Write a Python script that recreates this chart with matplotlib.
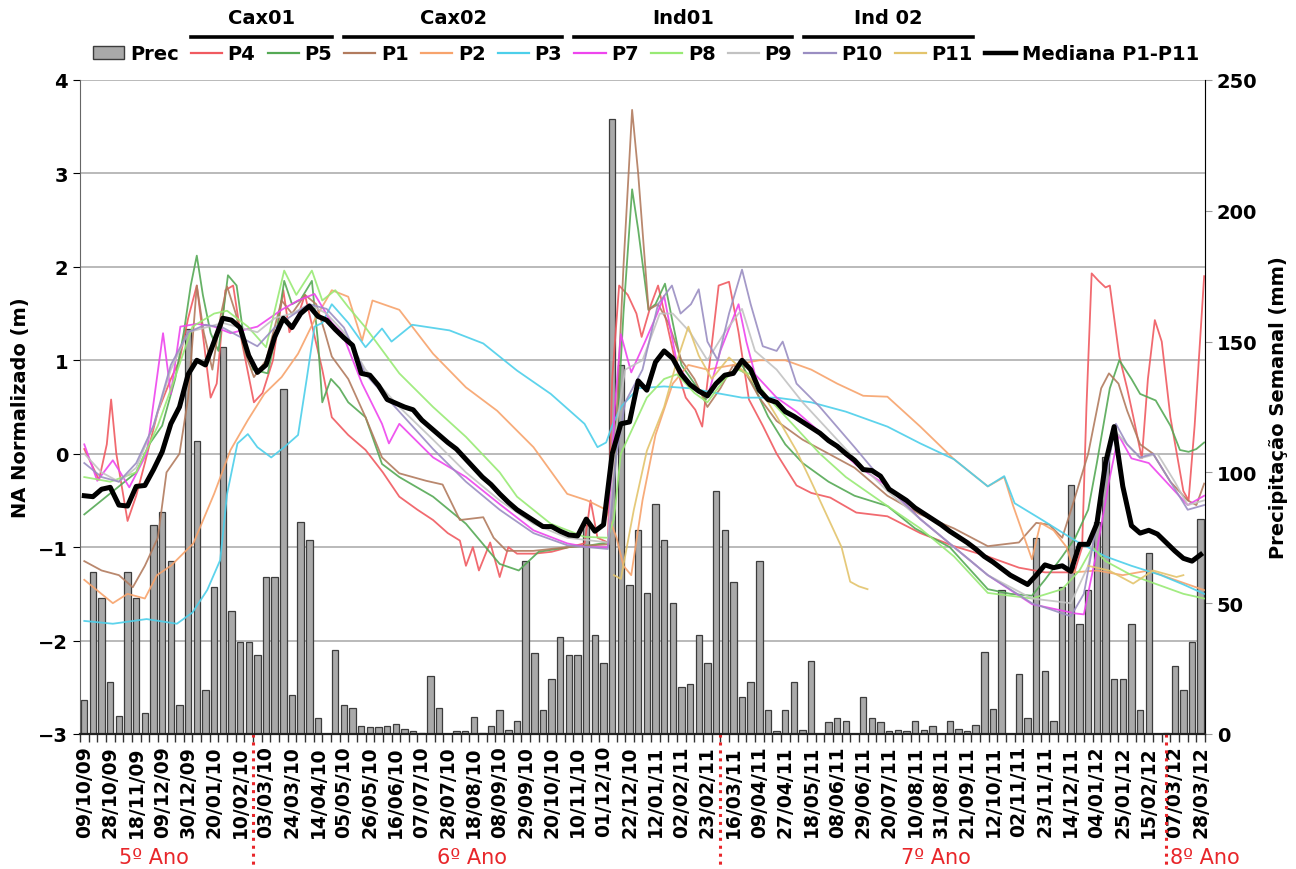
import numpy as np
import matplotlib.pyplot as plt
from matplotlib.lines import Line2D
from matplotlib.patches import Patch

plt.rcParams['font.family'] = ['DejaVu Sans']

# rotulos do eixo x (um a cada 3 semanas)
datas = ['09/10/09', '28/10/09', '18/11/09', '09/12/09', '30/12/09', '20/01/10',
         '10/02/10', '03/03/10', '24/03/10', '14/04/10', '05/05/10', '26/05/10',
         '16/06/10', '07/07/10', '28/07/10', '18/08/10', '08/09/10', '29/09/10',
         '20/10/10', '10/11/10', '01/12/10', '22/12/10', '12/01/11', '02/02/11',
         '23/02/11', '16/03/11', '09/04/11', '27/04/11', '18/05/11', '08/06/11',
         '29/06/11', '20/07/11', '10/08/11', '31/08/11', '21/09/11', '12/10/11',
         '02/11/11', '23/11/11', '14/12/11', '04/01/12', '25/01/12', '15/02/12',
         '07/03/12', '28/03/12']

# precipitacao semanal (mm)
prec = [13, 62, 52, 20, 7, 62, 52, 8, 80, 85,
        66, 11, 155, 112, 17, 56, 148, 47, 35, 35,
        30, 60, 60, 132, 15, 81, 74, 6, 0, 32,
        11, 10, 3, 2.5, 2.5, 3, 4, 2, 1, 0.5,
        22, 10, 0, 1, 1, 6.5, 0.5, 3, 9, 1.5,
        5, 66, 31, 9, 21, 37, 30, 30, 80, 38,
        27, 235, 141, 57, 78, 54, 88, 74, 50, 18,
        19, 38, 27, 93, 78, 58, 14, 20, 66, 9,
        1, 9, 20, 1.5, 28, 0, 4.5, 6, 5, 0,
        14, 6, 4.5, 1, 1.5, 1, 5, 1.5, 3, 0,
        5, 2, 1, 3.5, 31.5, 9.5, 55, 0, 23, 6,
        75, 24, 5, 56, 95, 42, 55, 81, 106, 21,
        21, 42, 9, 69, 0, 0.5, 26, 17, 35, 82]

# mediana P1-P11 (m)
mediana = [-0.45, -0.46, -0.38, -0.36, -0.55, -0.56, -0.35, -0.34, -0.17, 0.02,
           0.32, 0.50, 0.85, 1.00, 0.95, 1.20, 1.45, 1.43, 1.35, 1.05,
           0.87, 0.95, 1.25, 1.45, 1.35, 1.50, 1.58, 1.47, 1.43, 1.33,
           1.24, 1.16, 0.86, 0.84, 0.73, 0.58, 0.54, 0.50, 0.47, 0.36,
           0.28, 0.20, 0.12, 0.05, -0.05, -0.15, -0.25, -0.33, -0.43, -0.52,
           -0.60, -0.66, -0.72, -0.78, -0.78, -0.83, -0.87, -0.88, -0.70, -0.83,
           -0.76, 0.00, 0.32, 0.34, 0.78, 0.68, 0.98, 1.10, 1.02, 0.85,
           0.74, 0.67, 0.62, 0.75, 0.84, 0.86, 1.00, 0.90, 0.68, 0.58,
           0.55, 0.45, 0.40, 0.34, 0.28, 0.22, 0.14, 0.08, 0.00, -0.07,
           -0.17, -0.18, -0.24, -0.38, -0.44, -0.50, -0.58, -0.64, -0.70, -0.76,
           -0.83, -0.89, -0.95, -1.02, -1.10, -1.16, -1.23, -1.30, -1.35, -1.40,
           -1.30, -1.19, -1.22, -1.20, -1.26, -0.97, -0.97, -0.75, -0.10, 0.29,
           -0.35, -0.77, -0.85, -0.82, -0.86, -0.95, -1.04, -1.12, -1.15, -1.08]

# pocos: (semana, NA normalizado)
p4 = [(0, 0.05), (1.7, -0.28), (2.6, 0.1), (3.1, 0.58), (3.7, 0.0), (5.0, -0.72), (6, -0.45),
      (7, -0.1), (8.5, 0.45), (10, 0.8), (11, 1.0), (12, 1.45), (13, 1.8), (13.8, 1.2),
      (14.6, 0.6), (15.3, 0.75), (16.3, 1.75), (17.2, 1.8), (18.2, 1.2), (19.6, 0.55),
      (20.6, 0.65), (21.8, 1.0), (23.0, 1.75), (23.7, 1.3), (24.6, 1.45), (25.5, 1.7),
      (26.5, 1.3), (27.5, 0.9), (28.6, 0.39), (30.5, 0.2), (32.5, 0.04), (34.5, -0.2),
      (36.4, -0.46), (38.5, -0.6), (40.3, -0.71), (42, -0.85), (43.4, -0.93), (44.1, -1.2),
      (44.9, -1.0), (45.6, -1.25), (46.9, -0.95), (48, -1.32), (49, -1.0), (50, -1.07),
      (52, -1.07), (54, -1.05), (56, -1.0), (57.8, -0.96), (58.5, -0.5), (59.3, -0.9),
      (60.5, -0.95), (61.0, 0.8), (61.8, 1.8), (62.8, 1.7), (63.8, 1.5), (64.4, 1.25),
      (65.5, 1.6), (66.3, 1.8), (67.3, 1.4), (68.5, 0.9), (69.5, 0.6), (70.6, 0.47),
      (71.4, 0.29), (72.3, 1.0), (73.3, 1.8), (74.5, 1.84), (75.6, 1.3), (76.8, 0.58),
      (78.4, 0.3), (80, 0.0), (82.3, -0.34), (84, -0.42), (86.2, -0.47), (89.2, -0.63),
      (92.8, -0.67), (96.6, -0.85), (100.5, -0.99), (104.4, -1.1), (108, -1.22),
      (111, -1.27), (114.4, -1.27), (115.3, -1.0), (115.8, 0.5), (116.4, 1.93),
      (117.2, 1.85), (118.0, 1.78), (118.5, 1.8), (119.6, 1.04), (120.5, 0.7),
      (121.2, 0.4), (122.2, -0.05), (122.9, 0.8), (123.7, 1.43), (124.5, 1.2),
      (125.5, 0.39), (127.0, -0.4), (127.6, -0.5), (128.3, 0.3), (129.4, 1.9)]

p5 = [(0, -0.65), (2, -0.5), (4, -0.35), (6, -0.2), (7.5, 0.1), (9, 0.3), (10.5, 0.8),
      (11.5, 1.3), (12.3, 1.8), (13, 2.12), (13.7, 1.7), (14.6, 1.29), (15.5, 1.1),
      (16.6, 1.91), (17.6, 1.8), (18.5, 1.2), (19.5, 0.9), (21.2, 0.86), (22.2, 1.3),
      (23.1, 1.85), (24, 1.6), (25, 1.65), (26.3, 1.85), (27, 1.2), (27.5, 0.55),
      (28.5, 0.8), (29.5, 0.7), (30.5, 0.55), (32.5, 0.39), (34.4, -0.11), (36.4, -0.25),
      (40.3, -0.46), (44.1, -0.75), (48, -1.18), (50.2, -1.25), (52.5, -1.05), (56, -1.0),
      (58.5, -0.98), (60.5, -0.95), (61.3, -0.2), (62.3, 1.5), (63.3, 2.83), (64, 2.4),
      (65.2, 1.54), (66, 1.6), (67.1, 1.82), (68, 1.4), (69, 0.95), (70.5, 0.75),
      (71.8, 0.58), (73, 0.75), (74.5, 0.85), (76, 0.95), (77.5, 0.7), (79, 0.4),
      (81, 0.1), (83, -0.1), (86, -0.3), (89, -0.45), (92.8, -0.56), (96, -0.8),
      (100, -1.0), (104.4, -1.45), (107, -1.5), (109.5, -1.52), (111, -1.35),
      (113, -1.1), (114.5, -0.9), (116, -0.6), (117, -0.1), (118.5, 0.7), (119.6, 1.0),
      (121, 0.8), (122, 0.64), (123.8, 0.57), (125.5, 0.3), (126.6, 0.04), (127.6, 0.02),
      (128.5, 0.05), (129.4, 0.12)]

p1 = [(0, -1.15), (2, -1.25), (4, -1.3), (5.6, -1.43), (7, -1.2), (8.5, -0.9), (9.5, -0.2),
      (11, 0.0), (12, 0.6), (13, 1.8), (13.8, 1.3), (14.8, 0.9), (15.8, 1.5), (16.5, 1.79),
      (17.5, 1.5), (18.5, 1.1), (19.6, 0.82), (21, 1.0), (22.8, 1.64), (24, 1.5),
      (25.5, 1.7), (26.8, 1.6), (27.8, 1.3), (28.6, 1.04), (30.5, 0.8), (32.5, 0.39),
      (34.4, -0.04), (36.4, -0.21), (39.5, -0.29), (41.4, -0.33), (43.4, -0.71),
      (46.1, -0.68), (47.3, -0.9), (48.8, -1.04), (51.9, -1.04), (55.8, -1.0),
      (58.8, -0.98), (60.6, -0.97), (61.3, 0.0), (62.3, 2.0), (63.3, 3.68), (64, 3.0),
      (65.2, 1.54), (66.3, 1.6), (67.5, 1.4), (69, 1.0), (70.5, 0.8), (72, 0.5),
      (73.5, 0.7), (75, 0.95), (76.5, 0.85), (78, 0.6), (80, 0.35), (83, 0.15), (86, 0.0),
      (89, -0.15), (92.8, -0.45), (96.6, -0.65), (100.5, -0.8), (104.4, -0.99),
      (108, -0.95), (110, -0.74), (111.5, -0.76), (113, -0.9), (114.4, -0.49), (116, 0.0),
      (117.5, 0.7), (118.4, 0.86), (119.5, 0.75), (120.5, 0.46), (122, 0.1), (123.5, 0.0),
      (125.5, -0.3), (127.5, -0.5), (128.5, -0.55), (129.4, -0.32)]

p2 = [(0, -1.35), (3.3, -1.6), (5, -1.5), (7, -1.55), (8.4, -1.3), (10, -1.2), (12.6, -0.96),
      (15, -0.43), (16.9, 0.04), (18.9, 0.36), (20.8, 0.64), (22.8, 0.82), (24.7, 1.07),
      (26.6, 1.43), (28.6, 1.75), (30.5, 1.68), (32.1, 1.21), (33.3, 1.64), (36.4, 1.54),
      (40.3, 1.07), (44.1, 0.71), (47.7, 0.46), (51.9, 0.07), (55.8, -0.43), (58.1, -0.5),
      (60.3, -0.6), (61.5, -0.9), (62.3, -1.2), (63.2, -1.3), (64.5, -0.5), (66, 0.2),
      (68, 0.75), (69.8, 0.95), (72, 0.9), (75, 0.95), (78, 1.0), (81, 1.0), (84, 0.9),
      (87, 0.75), (90, 0.62), (92.8, 0.61), (96.6, 0.29), (100.5, -0.06), (104.4, -0.35),
      (106.3, -0.25), (107.3, -0.55), (109.5, -1.13), (110.5, -0.74), (112, -0.82),
      (113.5, -1.0), (114.4, -1.27), (117, -1.25), (120, -1.3), (123, -1.25), (126, -1.35),
      (129.4, -1.46)]

p3 = [(0, -1.79), (3.3, -1.82), (7.2, -1.77), (10.7, -1.82), (12.5, -1.7), (14.2, -1.46),
      (15.7, -1.14), (16.5, -0.43), (17.7, 0.11), (18.9, 0.21), (20, 0.07), (21.6, -0.04),
      (23.1, 0.07), (24.7, 0.2), (25.7, 0.8), (26.6, 1.36), (27.5, 1.4), (28.6, 1.6),
      (30.5, 1.4), (32.5, 1.14), (34.4, 1.34), (35.5, 1.2), (37.9, 1.38), (42.2, 1.32),
      (46.1, 1.18), (50, 0.89), (53.9, 0.64), (57.8, 0.32), (59.3, 0.07), (60.3, 0.12),
      (61, 0.3), (62, 0.5), (64, 0.7), (67, 0.72), (70, 0.7), (73, 0.65), (76, 0.6),
      (80, 0.6), (84, 0.55), (88, 0.45), (92.8, 0.29), (96.6, 0.11), (100.5, -0.06),
      (104.4, -0.35), (106.3, -0.24), (107.5, -0.53), (110.7, -0.71), (114.5, -0.93),
      (118, -1.1), (121, -1.2), (124.4, -1.3), (127, -1.4), (129.4, -1.5)]

p7 = [(0, 0.1), (1.5, -0.29), (3.3, -0.07), (5.2, -0.36), (7.2, 0.0), (9.1, 1.29), (10, 0.64),
      (11.1, 1.36), (13, 1.39), (15, 1.36), (16.9, 1.29), (20, 1.36), (22.8, 1.54),
      (24.7, 1.64), (26.6, 1.71), (28.6, 1.4), (29.8, 1.29), (32.1, 0.75), (34.4, 0.32),
      (35.2, 0.11), (36.4, 0.32), (40.3, -0.04), (44.1, -0.25), (48, -0.54), (51.9, -0.82),
      (55.8, -0.96), (58.1, -1.0), (60.5, -1.0), (61.3, 0.5), (62, 1.28), (63.2, 0.87),
      (64.8, 1.2), (66.2, 1.5), (67, 1.69), (68.5, 0.96), (70, 0.75), (72, 0.6), (73.5, 1.1),
      (75.6, 1.6), (76.5, 1.2), (77.5, 0.85), (80, 0.6), (82.3, 0.45), (86, 0.15),
      (89.2, -0.12), (92.8, -0.35), (96.6, -0.7), (100.5, -1.0), (104.4, -1.3),
      (109.5, -1.61), (114.5, -1.71), (115.5, -1.72), (117, -1.04), (118.4, -0.3),
      (119.5, 0.2), (121, -0.05), (123, -0.1), (125, -0.3), (127.5, -0.55), (129.4, -0.45)]

p8 = [(0, -0.25), (3, -0.3), (6, -0.2), (8.5, 0.3), (10.5, 0.82), (12.5, 1.36), (15, 1.5),
      (16.5, 1.53), (18.9, 1.36), (21, 1.14), (23.1, 1.96), (24.5, 1.7), (26.3, 1.96),
      (27.5, 1.64), (29, 1.75), (30.5, 1.57), (32.5, 1.35), (36.4, 0.86), (40.3, 0.5),
      (44.1, 0.18), (48, -0.2), (50, -0.46), (53.9, -0.75), (57.8, -0.89), (60.5, -0.9),
      (61.2, -0.7), (62, 0.0), (63.5, 0.3), (65, 0.6), (67, 0.8), (68.5, 0.85), (70.5, 0.65),
      (72, 0.55), (74, 0.8), (75.5, 0.9), (77, 0.85), (79, 0.6), (82, 0.3), (85, 0.0),
      (88, -0.25), (92.8, -0.56), (96.6, -0.8), (100.5, -1.1), (104.4, -1.49),
      (109.5, -1.55), (113, -1.45), (115, -1.25), (116.5, -1.0), (118, -1.15),
      (121, -1.3), (124, -1.4), (127, -1.5), (129.4, -1.55)]

p9 = [(0, 0.0), (2, -0.2), (4, -0.3), (6, -0.15), (8, 0.3), (10, 0.9), (12, 1.3), (14, 1.35),
      (16, 1.4), (18, 1.35), (20, 1.3), (22, 1.45), (24, 1.5), (26, 1.6), (28, 1.5),
      (30, 1.3), (32.5, 0.9), (36.4, 0.5), (40.3, 0.15), (44.1, -0.2), (48, -0.5),
      (51.9, -0.75), (55.8, -0.9), (60.5, -0.95), (61.5, 0.3), (62.5, 0.9), (64.5, 1.0),
      (66.5, 1.5), (68, 1.5), (70, 1.3), (72, 1.0), (74, 1.3), (76, 1.55), (77.5, 1.1),
      (80, 0.9), (83, 0.55), (86, 0.25), (89, -0.05), (92.8, -0.4), (96.6, -0.7),
      (100.5, -1.0), (104.4, -1.3), (109.5, -1.55), (114, -1.6), (116, -1.2),
      (117.5, -0.5), (119, 0.25), (120.5, 0.1), (122, -0.05), (124, 0.0), (126, -0.3),
      (127.5, -0.55), (129.4, -0.5)]

p10 = [(0, -0.1), (2, -0.25), (4, -0.3), (6, -0.1), (8, 0.3), (10, 0.95), (12, 1.3),
       (14, 1.38), (16, 1.35), (18, 1.25), (20, 1.15), (22, 1.35), (24, 1.48), (26, 1.6),
       (28, 1.55), (30, 1.35), (32.5, 0.85), (36.4, 0.45), (40.3, 0.05), (44.1, -0.3),
       (48, -0.6), (51.9, -0.85), (55.8, -0.98), (60.5, -1.02), (61.5, 0.0), (62.5, 0.55),
       (64.5, 0.9), (66.3, 1.6), (67.9, 1.8), (68.9, 1.5), (70.1, 1.6), (71, 1.76),
       (72, 1.2), (73.2, 1.0), (74.5, 1.5), (76, 1.97), (77, 1.6), (78.4, 1.15), (80, 1.1),
       (80.7, 1.2), (82.3, 0.75), (85, 0.5), (89, 0.07), (92.8, -0.35), (96.6, -0.7),
       (100.5, -1.0), (104.4, -1.3), (109.5, -1.6), (114, -1.74), (115.5, -1.5),
       (117.5, -0.5), (119.2, 0.32), (120.5, 0.1), (122, -0.04), (123.5, 0.0),
       (125.5, -0.3), (127.5, -0.6), (129.4, -0.55)]

p11 = [(61.2, -1.3), (62, -1.34), (63.5, -0.6), (65, 0.03), (67, 0.5), (68.5, 1.0),
       (69.8, 1.36), (71, 1.05), (72.5, 0.8), (74.5, 1.03), (76, 0.9), (78, 0.7), (80, 0.4),
       (82.3, 0.03), (84, -0.3), (86, -0.7), (87.5, -1.0), (88.5, -1.37), (89.5, -1.42),
       (90.5, -1.45), (100, np.nan), (116, -1.2), (118.4, -1.25), (121.2, -1.39),
       (123.5, -1.25), (126.2, -1.32), (127, -1.3)]

pocos = [('P4', p4, '#f05a60'), ('P5', p5, '#55a955'), ('P1', p1, '#b27b5e'),
         ('P2', p2, '#f7a36c'), ('P3', p3, '#4ccfea'), ('P7', p7, '#ee45ee'),
         ('P8', p8, '#98ea74'), ('P9', p9, '#c2c2c2'), ('P10', p10, '#9a8ec2'),
         ('P11', p11, '#e3c46c')]

grupos = [('Cax01', 'P4', 'P5'), ('Cax02', 'P1', 'P3'),
          ('Ind01', 'P7', 'P9'), ('Ind 02', 'P10', 'P11')]
anos = [('5º Ano', 0.119), ('6º Ano', 0.364), ('7º Ano', 0.722), ('8º Ano', 0.93)]
limites_ano = [19.5, 73.5, 125.0]

fig = plt.figure(figsize=(12.96, 8.7), dpi=100)
ax = fig.add_axes([0.0617, 0.1552, 0.8681, 0.7517])
ax2 = ax.twinx()
ax.set_zorder(ax2.get_zorder() + 1)
ax.patch.set_visible(False)

n = len(prec)
xs = np.arange(n)

# grade horizontal nas divisoes do eixo esquerdo (atras das barras)
for v in range(-3, 5):
    ax2.axhline((v + 3) * 250 / 7, color='#b4b4b4', lw=1.3, zorder=0)

ax2.bar(xs, prec, width=0.74, color='#a9a9a9', edgecolor='#3c3c3c', linewidth=0.9, zorder=2)
ax2.set_ylim(0, 250)
ax2.set_yticks(range(0, 251, 50))

for nome, pts, cor in pocos:
    px, py = zip(*pts)
    ax.plot(px, py, color=cor, lw=1.3, alpha=0.9)
ax.plot(xs, mediana, color='black', lw=3.6, solid_joinstyle='round')

ax.set_xlim(-0.5, n - 0.5)
ax.set_ylim(-3, 4)
ax.set_yticks(range(-3, 5))
ax.set_xticks(xs[::3])
ax.set_xticklabels(datas, rotation=90, fontweight='bold', fontsize=13.5)
ax.set_xticks(np.arange(-0.5, n, 1), minor=True)
ax.tick_params(axis='x', which='major', length=0, pad=8)
ax.tick_params(axis='x', which='minor', length=6, width=1, color='#333333')
ax.tick_params(axis='y', length=5, labelsize=14)
ax2.tick_params(axis='y', length=5, labelsize=14, color='#999999')
for lab in ax.get_yticklabels() + ax2.get_yticklabels():
    lab.set_fontweight('bold')

for a in (ax, ax2):
    a.spines['top'].set_visible(False)
ax.spines['bottom'].set_color('#222222')
ax.spines['bottom'].set_linewidth(1.6)
ax.spines['left'].set_color('#666666')
ax2.spines['right'].set_color('#aaaaaa')
ax2.spines['left'].set_visible(False)
ax2.spines['bottom'].set_visible(False)

ax.set_ylabel('NA Normalizado (m)', fontweight='bold', fontsize=14, labelpad=6)
ax2.set_ylabel('Precipitação Semanal (mm)', fontweight='bold', fontsize=14, labelpad=8)

# limites entre anos hidrologicos
for xl in limites_ano:
    ax.plot([xl, xl], [0, -0.2], transform=ax.get_xaxis_transform(), clip_on=False,
            color='#e8262a', lw=2.2, linestyle=(0, (1, 1.6)))
for txt, xf in anos:
    fig.text(xf, 0.014, txt, color='#e8262a', fontsize=15, ha='center', va='center')

# legenda
handles = [Patch(facecolor='#a9a9a9', edgecolor='#3c3c3c', label='Prec')]
for nome, pts, cor in pocos:
    handles.append(Line2D([], [], color=cor, lw=1.6, label=nome))
handles.append(Line2D([], [], color='black', lw=3.2, label='Mediana P1-P11'))
leg = fig.legend(handles=handles, ncol=len(handles), loc='center',
                 bbox_to_anchor=(0.4985, 0.937), frameon=False,
                 prop={'weight': 'bold', 'size': 14}, handlelength=1.6,
                 handletextpad=0.3, columnspacing=0.62, borderaxespad=0)

fig.canvas.draw()
textos = {t.get_text(): t.get_window_extent() for t in leg.get_texts()}
fs_px = 14 * fig.dpi / 72
W, H = fig.bbox.width, fig.bbox.height
for nome, ini, fim in grupos:
    x0 = textos[ini].x0 - (1.6 + 0.3) * fs_px
    x1 = textos[fim].x1
    yl = 1 - 38 / 870
    fig.add_artist(Line2D([x0 / W, x1 / W], [yl, yl], color='black', lw=2.6))
    fig.text((x0 + x1) / 2 / W, 1 - 19 / 870, nome, fontweight='bold', fontsize=14,
             ha='center', va='center')

fig.savefig('out.png', dpi=100)
